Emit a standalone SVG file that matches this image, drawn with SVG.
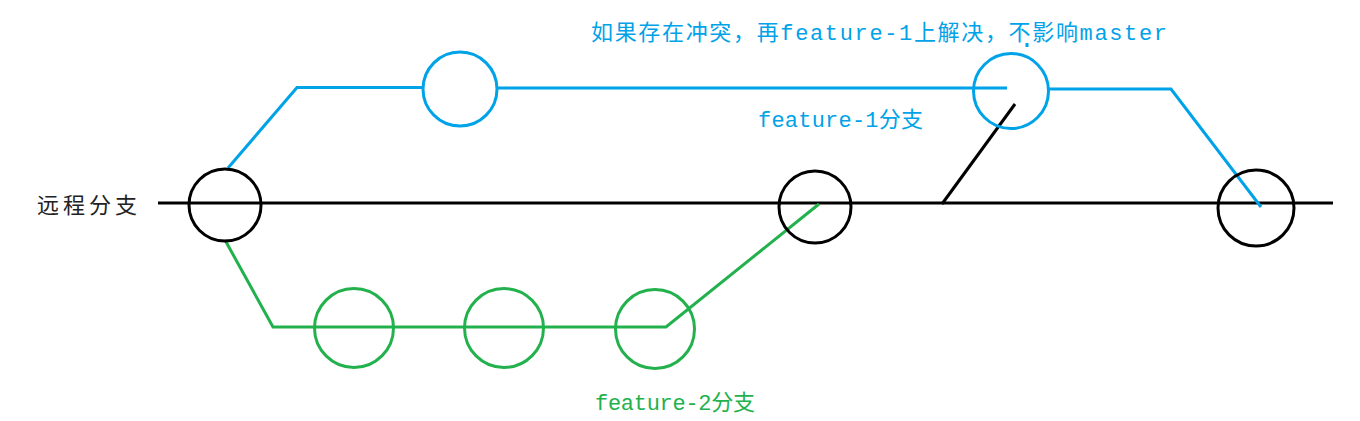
<svg xmlns="http://www.w3.org/2000/svg" width="1360" height="421" viewBox="0 0 1360 421">
<style>
.k{fill:none;stroke:#000;stroke-width:3}
.b{fill:none;stroke:#00A2E8;stroke-width:3}
.g{fill:none;stroke:#22B14C;stroke-width:3}
.t{font-family:"Liberation Mono","Noto Sans CJK SC",monospace;font-size:22px}
</style>
<rect width="1360" height="421" fill="#fff"/>
<g id="connectors">
<polyline class="k" points="158,203 1333,203"/>
<polyline class="k" points="942,204 1015,104"/>
<polyline class="b" points="228,168 297,87.5 423,87.5"/>
<polyline class="b" points="498,88 1007,88"/>
<polyline class="b" points="1048,89 1171,89 1261,207"/>
<polyline class="g" points="225,240 273,327 666,327 819,204"/>
<line class="b" x1="1027" y1="43" x2="1027" y2="47" stroke-width="2"/>
</g>
<g id="remote-1"><circle class="k" cx="225" cy="205" r="36"/></g>
<g id="remote-2"><circle class="k" cx="815" cy="207" r="36"/></g>
<g id="remote-3"><circle class="k" cx="1256" cy="208" r="38"/></g>
<g id="f1-1"><circle class="b" cx="460" cy="89" r="37"/></g>
<g id="f1-2"><circle class="b" cx="1011" cy="91" r="37.5"/></g>
<g id="f2-1"><circle class="g" cx="354" cy="328" r="39.5"/></g>
<g id="f2-2"><circle class="g" cx="504" cy="328" r="39.5"/></g>
<g id="f2-3"><circle class="g" cx="655" cy="329" r="39.5"/></g>
<g id="labels">
<text class="t" x="37" y="213" fill="#222" textLength="100" lengthAdjust="spacing">远程分支</text>
<text class="t" x="591" y="40" fill="#00A2E8" textLength="576" lengthAdjust="spacing">如果存在冲突，再feature-1上解决，不影响master</text>
<text class="t" x="758" y="127" fill="#00A2E8" textLength="165" lengthAdjust="spacing">feature-1分支</text>
<text class="t" x="595" y="410" fill="#22B14C" textLength="160" lengthAdjust="spacing">feature-2分支</text>
</g>
</svg>
